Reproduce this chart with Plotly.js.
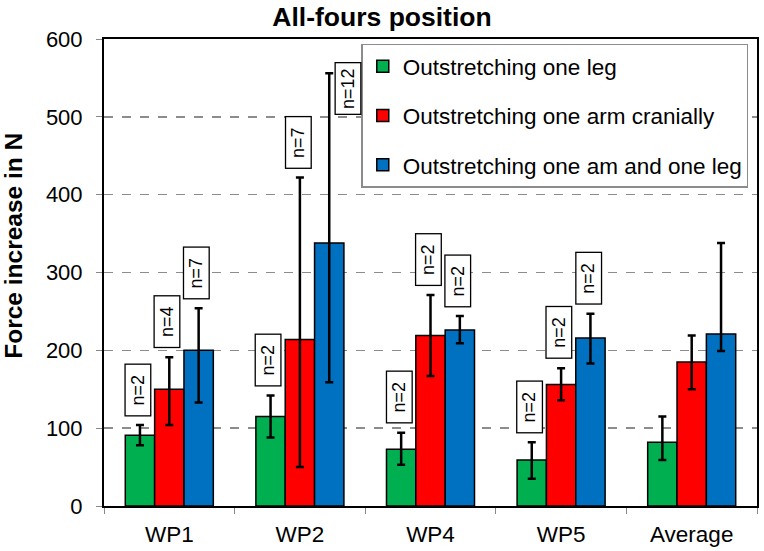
<!DOCTYPE html>
<html>
<head>
<meta charset="utf-8">
<script src="https://cdn.plot.ly/plotly-3.0.1.min.js"></script>
<style>html,body{margin:0;padding:0;background:#fff;}#chart{width:764px;height:551px;}</style>
</head>
<body>
<div id="chart"></div>
<script>
// ---- data ----
const categories = ["WP1", "WP2", "WP4", "WP5", "Average"];
const seriesNames = ["Outstretching one leg", "Outstretching one arm cranially", "Outstretching one am and one leg"];
const legValues   = [91, 115, 73, 59, 82];
const legErrPlus  = [13, 27, 21, 23, 33];
const legErrMinus = [13, 27, 20, 24, 23];
const armValues   = [150, 214, 219, 156, 185];
const armErrPlus  = [41, 208, 52, 21, 34];
const armErrMinus = [46, 164, 52, 20, 35];
const bothValues   = [200, 338, 226, 216, 221];
const bothErrPlus  = [54, 218, 18, 31, 117];
const bothErrMinus = [67, 179, 17, 33, 22];
const legN  = ["n=2", "n=2", "n=2", "n=2", ""];
const armN  = ["n=4", "n=7", "n=2", "n=2", ""];
const bothN = ["n=7", "n=12", "n=2", "n=2", ""];
const yTitle = "Force increase in N";

// ---- styles ----
const colors = ["#00B050", "#FF0000", "#0070C0"];
const bargap = 0.326;
const FONT = "Liberation Sans, Arial, sans-serif";

const vals = [legValues, armValues, bothValues];
const ep = [legErrPlus, armErrPlus, bothErrPlus];
const em = [legErrMinus, armErrMinus, bothErrMinus];
const ns = [legN, armN, bothN];

const traces = vals.map((v, j) => ({
  type: "bar",
  name: seriesNames[j],
  x: categories,
  y: v,
  legendgroup: "g" + j,
  marker: {color: colors[j], line: {color: "#000", width: 1.5}},
  error_y: {type: "data", symmetric: false, array: ep[j], arrayminus: em[j],
            color: "#000", thickness: 2.5, width: 4}
}));

// label placement (style tweaks, not data)
const nudge = {"2-1": {xshift: 19, yAbove: -42}};

const annotations = [];
const bw = (1 - bargap) / 3;
ns.forEach((arr, j) => {
  arr.forEach((t, i) => {
    if (!t) return;
    const top = vals[j][i] + ep[j][i];
    const nd = nudge[j + "-" + i] || {};
    annotations.push({
      x: i + (j - 1) * bw, xref: "x",
      y: top, yref: "y",
      text: t, showarrow: false, textangle: -90,
      xanchor: "center", yanchor: "bottom",
      xshift: (nd.xshift || -2), yshift: (nd.yAbove !== undefined ? nd.yAbove : 9),
      font: {family: FONT, size: 18, color: "#000"},
      bgcolor: "#fff", bordercolor: "#000", borderwidth: 1.3, borderpad: 1,
      width: 48, height: 22
    });
  });
});
// y-axis title (placed as in the reference, above the plot centre)
annotations.push({
  text: "<b>" + yTitle + "</b>", xref: "paper", yref: "paper",
  x: -0.138, y: 0.557, xanchor: "center", yanchor: "middle",
  textangle: -90, showarrow: false,
  font: {family: FONT, size: 24.5, color: "#000"}
});

const layout = {
  width: 764, height: 551,
  margin: {l: 104, r: 7, t: 39, b: 45},
  paper_bgcolor: "#fff", plot_bgcolor: "#fff",
  font: {family: FONT, size: 22, color: "#000"},
  title: {text: "<b>All-fours position</b>", font: {family: FONT, size: 26.5, color: "#000"},
          x: 0.5, xref: "container", xanchor: "center", y: 0.987, yref: "container", yanchor: "top"},
  barmode: "group", bargap: bargap, bargroupgap: 0,
  showlegend: true,
  legend: {x: 0.394, xanchor: "left", y: 0.99, yanchor: "top",
           bgcolor: "#fff", bordercolor: "#8c8c8c", borderwidth: 1.5,
           font: {family: FONT, size: 22.5, color: "#000"},
           traceorder: "grouped", tracegroupgap: 17, itemwidth: 30},
  xaxis: {type: "category", showline: true, mirror: true, linecolor: "#000", linewidth: 2,
          ticks: "outside", tickson: "boundaries", ticklen: 6, tickcolor: "#888", tickwidth: 1,
          ticklabelstandoff: 7,
          tickfont: {family: FONT, size: 22.5, color: "#000"}, showgrid: false},
  yaxis: {range: [0, 600], dtick: 100, tick0: 0,
          showline: true, mirror: true, linecolor: "#000", linewidth: 2,
          ticks: "outside", ticklen: 6, tickcolor: "#888", tickwidth: 1,
          ticklabelstandoff: 9,
          tickfont: {family: FONT, size: 22, color: "#000"},
          showgrid: true, gridcolor: "#8c8c8c", gridwidth: 1.5, griddash: "dash",
          zeroline: false},
  annotations: annotations
};

Plotly.newPlot("chart", traces, layout, {displayModeBar: false, staticPlot: true});
</script>
</body>
</html>
